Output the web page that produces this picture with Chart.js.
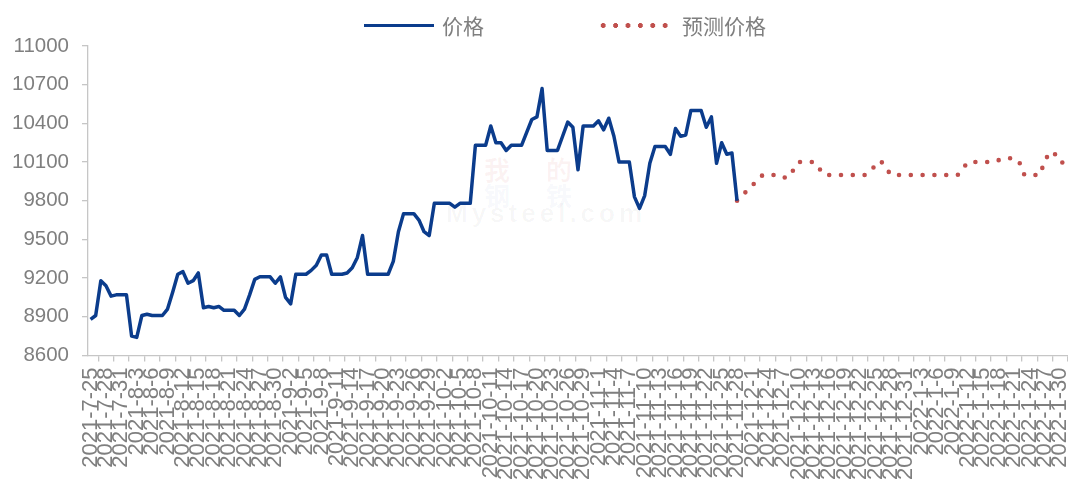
<!DOCTYPE html>
<html>
<head>
<meta charset="utf-8">
<script src="https://cdn.jsdelivr.net/npm/chart.js@4.4.0/dist/chart.umd.min.js"></script>
<style>
    html, body { margin: 0; padding: 0; background: #fff; }
    #wrap { position: relative; width: 1068px; height: 487px; overflow: hidden; }
    #priceChart { position: absolute; left: 0; top: 0; }
    .legend { position: absolute; top: 12px; height: 26px; font: 21px "Noto Sans CJK SC", sans-serif; color: #7f7f7f; line-height: 26px; }
    .swatch-line { position: absolute; left: 364px; top: 23.5px; width: 70px; height: 3.5px; background: #0b3c8c; }
    .swatch-dots { position: absolute; left: 597px; top: 23px; width: 74.4px; height: 5px;
        background: radial-gradient(circle, #c0504d 2.2px, rgba(192,80,77,0) 2.7px) 0 0 / 12.4px 5px repeat-x; }
    .mark { position: absolute; font-family: "Noto Sans CJK SC", sans-serif; font-weight: bold; }
</style>
</head>
<body>
<div id="wrap">
    <div class="mark" style="left:484px; top:150px; font-size:26px; letter-spacing:36px; color:rgba(205,60,60,0.06);">我的</div>
    <div class="mark" style="left:484px; top:176px; font-size:26px; letter-spacing:36px; color:rgba(60,80,160,0.05);">钢铁</div>
    <div class="mark" style="left:446px; top:198px; font-size:26px; letter-spacing:4px; font-family:'Liberation Sans', sans-serif; color:rgba(0,0,0,0.035);">Mysteel.com</div>
    <canvas id="priceChart" width="1068" height="487"></canvas>
    <div class="swatch-line"></div>
    <div class="legend" style="left:442px;">价格</div>
    <div class="swatch-dots"></div>
    <div class="legend" style="left:682px;">预测价格</div>
</div>
<script>
// one category per calendar day, 2021-7-25 .. 2022-1-31
const dates = [];
for (let i = 0; i < 191; i++) {
    const d = new Date(2021, 6, 25 + i);
    dates.push(d.getFullYear() + '-' + (d.getMonth() + 1) + '-' + d.getDate());
}

// 价格, daily from 2021-7-25 to 2021-11-28
const priceValues = [
    8880, 8910, 9180, 9140, 9060, 9070, 9070, 9070, 8750, 8740,
    8910, 8920, 8910, 8910, 8910, 8960, 9090, 9230, 9250, 9160,
    9180, 9240, 8970, 8980, 8970, 8980, 8950, 8950, 8950, 8910,
    8960, 9070, 9190, 9210, 9210, 9210, 9160, 9210, 9050, 9000,
    9230, 9230, 9230, 9260, 9300, 9380, 9380, 9230, 9230, 9230,
    9240, 9280, 9360, 9530, 9230, 9230, 9230, 9230, 9230, 9330,
    9560, 9700, 9700, 9700, 9650, 9560, 9530, 9780, 9780, 9780,
    9780, 9750, 9780, 9780, 9780, 10230, 10230, 10230, 10380, 10250,
    10250, 10190, 10230, 10230, 10230, 10330, 10430, 10450, 10670, 10190,
    10190, 10190, 10300, 10410, 10370, 10040, 10380, 10380, 10380, 10420,
    10350, 10440, 10300, 10100, 10100, 10100, 9830, 9740, 9840, 10090,
    10220, 10220, 10220, 10160, 10360, 10300, 10310, 10500, 10500, 10500,
    10370, 10450, 10090, 10250, 10160, 10170, 9800
];

// 预测价格, turning points of the forecast line
const forecastDates = [
    '2021-11-28', '2021-12-3', '2021-12-6', '2021-12-7', '2021-12-8', '2021-12-10',
    '2021-12-13', '2021-12-15', '2021-12-23', '2021-12-26', '2021-12-28',
    '2022-1-10', '2022-1-12', '2022-1-17', '2022-1-19', '2022-1-21', '2022-1-22',
    '2022-1-23', '2022-1-26', '2022-1-27', '2022-1-28', '2022-1-30', '2022-1-31'
];
const forecastValues = [
    9800, 10000, 10000, 9980, 9980, 10100,
    10100, 10000, 10000, 10110, 10000,
    10000, 10100, 10100, 10130, 10130, 10100,
    10000, 10000, 10110, 10180, 10140, 10030
];

const yMin = 8600;
const yMax = 11000;
const yStep = 300;

const priceData = dates.map((d, i) => i < priceValues.length ? priceValues[i] : null);
const forecastData = dates.map(d => {
    const k = forecastDates.indexOf(d);
    return k >= 0 ? forecastValues[k] : null;
});

const axisGrey = '#c6c6c6';
const textGrey = '#7f7f7f';

const ctx = document.getElementById('priceChart').getContext('2d');
const priceChart = new Chart(ctx, {
    type: 'line',
    data: {
        labels: dates,
        datasets: [
            {
                label: '价格',
                data: priceData,
                borderColor: '#0b3c8c',
                borderWidth: 3.5,
                borderJoinStyle: 'round',
                pointRadius: 0,
                tension: 0,
                spanGaps: false
            },
            {
                label: '预测价格',
                data: forecastData,
                borderColor: '#c0504d',
                borderWidth: 4.6,
                borderDash: [0, 11.8],
                borderCapStyle: 'round',
                pointRadius: 0,
                tension: 0,
                spanGaps: true
            }
        ]
    },
    options: {
        responsive: false,
        animation: false,
        layout: { padding: { left: 12, right: 0, top: 46, bottom: 1 } },
        plugins: {
            legend: { display: false },
            tooltip: { enabled: false }
        },
        scales: {
            x: {
                type: 'category',
                offset: true,
                grid: { drawOnChartArea: false, offset: true, tickLength: 6, color: axisGrey, lineWidth: 1.3 },
                border: { color: axisGrey, width: 1.3 },
                ticks: {
                    autoSkip: false,
                    minRotation: 90,
                    maxRotation: 90,
                    padding: 6,
                    color: textGrey,
                    font: { family: '"Liberation Sans", Arial, sans-serif', size: 22 },
                    callback: (v, i) => i % 3 === 0 ? dates[i] : null
                },
                afterFit: scale => { scale.paddingLeft = 0; scale.paddingRight = 0; }
            },
            y: {
                min: yMin,
                max: yMax,
                grid: { drawOnChartArea: false, tickLength: 6, color: axisGrey, lineWidth: 1.3 },
                border: { color: axisGrey, width: 1.3 },
                ticks: {
                    stepSize: yStep,
                    padding: 13,
                    color: textGrey,
                    font: { family: '"Liberation Sans", Arial, sans-serif', size: 20.5 },
                    callback: v => String(v)
                },
                afterFit: scale => { scale.width = 76; }
            }
        }
    }
});
</script>
</body>
</html>
